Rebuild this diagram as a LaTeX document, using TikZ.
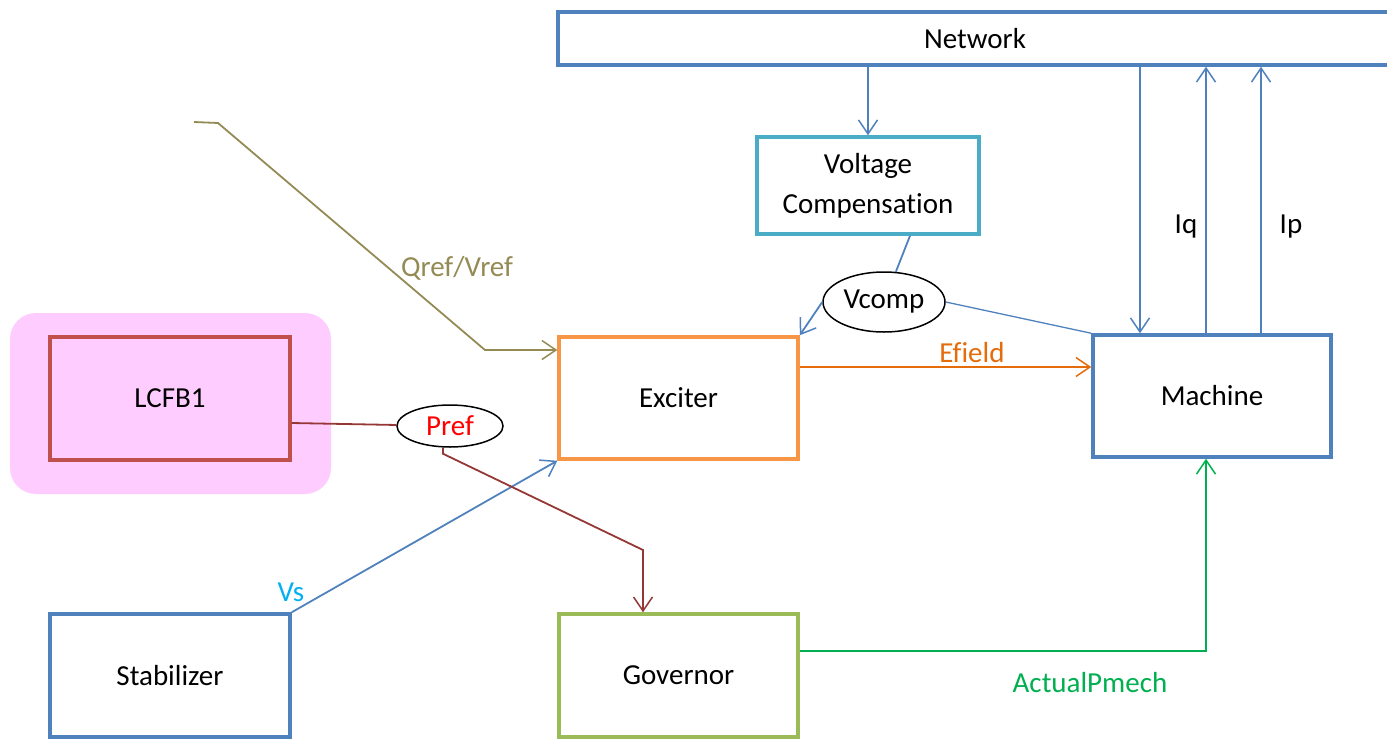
\documentclass[tikz,border=0pt]{standalone}
\usepackage{fontspec}
\setmainfont{Carlito}[Ligatures=NoCommon]
\usetikzlibrary{shapes.geometric, arrows.meta, positioning}
\definecolor{mblue}{HTML}{4F81BD}
\definecolor{mteal}{HTML}{4BACC6}
\definecolor{morange}{HTML}{F79646}
\definecolor{dorange}{HTML}{E46C0A}
\definecolor{molive}{HTML}{948A54}
\definecolor{mred}{HTML}{C0504D}
\definecolor{dred}{HTML}{953735}
\definecolor{mgreen}{HTML}{9BBB59}
\definecolor{dgreen}{HTML}{00B050}
\definecolor{mcyan}{HTML}{00B0F0}
\definecolor{mpink}{HTML}{FFCCFF}
\tikzset{
x=1pt, y=-1pt, % one unit is one pixel of the picture, y runs downwards
>={Straight Barb[length=14pt, width=19pt, line width=1.5pt]}, % open arrow tips
every node/.style={font=\fontsize{29}{40}\selectfont}, % text size for all nodes
block/.style={draw=mblue, line width=3.5pt, rectangle, align=center, inner sep=0pt}, % the boxes
bubble/.style={draw, line width=1.5pt, ellipse, inner sep=0pt}, % the signal ovals
sig/.style={mblue, line width=1.8pt}, % the thin connectors
}

\begin{document}
\begin{tikzpicture}
\useasboundingbox (0,0) rectangle (1387,739);

% background of the LCFB1 box
\fill[mpink, rounded corners=26pt] (10,313) rectangle (331,494);

\node[block, minimum width=834pt, minimum height=53pt] at (975,38.5) (network) {Network};
\node[block, draw=mteal, minimum width=222pt, minimum height=97pt] at (868,185.5) (volt) {Voltage\\Compensation};
\node[block, minimum width=238pt, minimum height=122pt] at (1212,396) (machine) {Machine};
\node[block, draw=morange, minimum width=239pt, minimum height=122pt] at (678.5,398) (exciter) {Exciter};
\node[block, draw=mred, fill=mpink, minimum width=240pt, minimum height=123pt] at (170,398.5) (lcfb) {LCFB1};
\node[block, minimum width=240pt, minimum height=123pt] at (170,675.5) (stab) {Stabilizer};
\node[block, draw=mgreen, minimum width=239pt, minimum height=123pt] at (678.5,675.5) (governor) {Governor};

\node[bubble, minimum width=122pt, minimum height=60pt] at (884,302) (vcomp) {Vcomp};
\node[bubble, minimum width=106pt, minimum height=42pt, text=red] at (450,426) (pref) {Pref};

\coordinate (qstart) at (194,122);
\coordinate (mnet) at ([xshift=-72pt]machine.north);
\coordinate (miq) at ([xshift=-6pt]machine.north);
\coordinate (mip) at ([xshift=49pt]machine.north);
\coordinate (ef) at ([yshift=31pt]exciter.east);
\coordinate (gp) at ([yshift=24.5pt]governor.east);
\coordinate (pm) at ([xshift=-6pt]machine.south);
\coordinate (gin) at ([xshift=-35.5pt]governor.north);

% network side
\draw[sig, ->] (volt.north |- network.south) -- (volt.north);
\draw[sig, ->] (mnet |- network.south) -- (mnet);
\draw[sig, ->] (miq) -- (miq |- network.south);
\draw[sig, ->] (mip) -- (mip |- network.south);
\node at (1186,227) (iq) {Iq};
\node at (1291,227) (ip) {Ip};

% compensated voltage
\draw[sig] ([xshift=42pt]volt.south) -- (vcomp);
\draw[sig, ->] (vcomp.west) -- (exciter.north east);
\draw[sig, line width=1.3pt] (vcomp.east) -- (machine.north west);

% exciter signals
\draw[molive, line width=1.8pt, ->] (qstart) -- (218,123) -- (485,350) -- (exciter.west |- 0,350);
\node[text=molive] at (457,268) (qref) {Qref/Vref};
\draw[dorange, line width=1.8pt, ->] (ef) -- (ef -| machine.west);
\node[text=dorange] at (972,353) (efield) {Efield};
\draw[sig, ->] (stab.north east) -- (exciter.south west);
\node[text=mcyan] at (291,592) (vs) {Vs};

% power reference and governor
\draw[dred, line width=1.8pt] ([yshift=-24.5pt]lcfb.east) -- (pref);
\draw[dred, line width=1.8pt, ->] ([xshift=-7pt]pref.south) -- ++(0,6) -- (gin |- 0,550) -- (gin);
\draw[dgreen, line width=1.8pt, ->] (gp) -| (pm);
\node[text=dgreen] at (1090,683) (pmech) {ActualPmech};

\end{tikzpicture}
\end{document}
